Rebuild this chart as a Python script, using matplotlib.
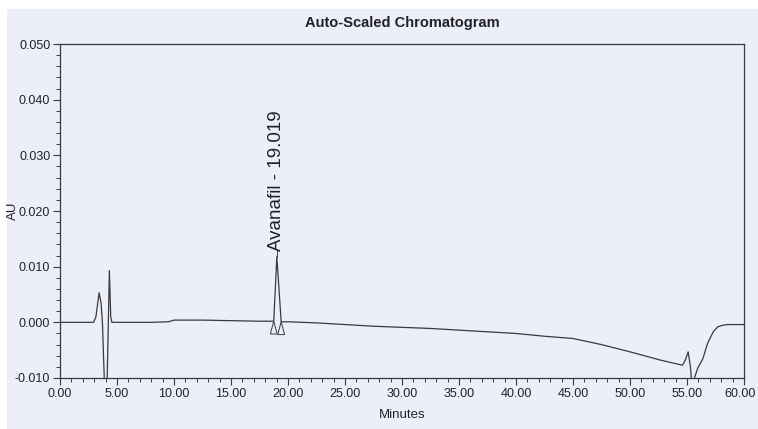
import matplotlib
matplotlib.use("Agg")
import matplotlib.pyplot as plt
from matplotlib.patches import Rectangle, Polygon
from matplotlib.ticker import MultipleLocator, FuncFormatter, FormatStrFormatter

# Detector trace (retention time in minutes, absorbance in AU)
time_min = [0.00, 2.95, 3.15, 3.43, 3.60, 3.72, 3.85, 3.98, 4.10, 4.22, 4.33,
            4.45, 4.55, 6.00, 8.00, 9.50, 10.00, 12.50, 15.00, 17.50, 18.75,
            19.02, 19.40, 20.00, 22.50, 25.00, 27.50, 30.00, 32.50, 35.00,
            37.50, 40.00, 42.50, 45.00, 47.50, 50.00, 52.70, 54.60, 54.85,
            55.10, 55.30, 55.50, 55.65, 55.95, 56.40, 56.80, 57.30, 57.70,
            58.20, 58.60, 59.30, 60.00]
signal_au = [0.0000, 0.0000, 0.0010, 0.0053, 0.0035, 0.0000, -0.0080, -0.0160,
             -0.0140, -0.0020, 0.0093, 0.0010, 0.0000, 0.0000, 0.0000, 0.0001,
             0.0004, 0.0004, 0.0003, 0.0002, 0.0002, 0.0118, 0.0001, 0.0001,
             -0.0001, -0.0004, -0.0007, -0.0009, -0.0011, -0.0014, -0.0017,
             -0.0020, -0.0025, -0.0029, -0.0040, -0.0053, -0.0068, -0.0077,
             -0.0068, -0.0053, -0.0080, -0.0130, -0.0100, -0.0082, -0.0065,
             -0.0038, -0.0017, -0.0008, -0.0005, -0.0004, -0.0004, -0.0004]

# Integrated peak
peak_name = "Avanafil"
peak_rt = 19.019
peak_height = 0.0118
peak_start = 18.75
peak_end = 19.40
label_base = 0.0128

x_limits = (0.0, 60.0)
y_limits = (-0.010, 0.050)

ink = "#3a3a3e"
text_ink = "#222226"
paper = "#eceef8"

plt.rcParams["font.family"] = ["Liberation Sans", "DejaVu Sans"]

fig = plt.figure(figsize=(7.58, 4.29), dpi=100)
fig.patch.set_facecolor("white")
fig.patches.append(Rectangle((7 / 758, 0), 1, 1 - 9 / 429, transform=fig.transFigure,
                             facecolor=paper, edgecolor="none", zorder=-10))

ax = fig.add_axes([60 / 758, 1 - 378 / 429, 684 / 758, (378 - 44) / 429])
ax.set_facecolor(paper)

ax.plot(time_min, signal_au, color=ink, lw=0.9, zorder=3)

# Baseline start/end markers of the integrated peak
tri_half = 0.30
tri_depth = 0.0023
for xm in (peak_start, peak_end):
    base_y = signal_au[time_min.index(xm)]
    tri = Polygon([(xm - tri_half, base_y - tri_depth), (xm, base_y),
                   (xm + tri_half, base_y - tri_depth)], closed=True,
                  facecolor="none", edgecolor=ink, lw=0.7, zorder=3)
    ax.add_patch(tri)

# Peak label
ax.plot([peak_rt, peak_rt], [peak_height, label_base], color=ink, lw=0.7, zorder=3)
ax.text(peak_rt, label_base, f"{peak_name} - {peak_rt:.3f}", rotation=90,
        ha="center", va="bottom", fontsize=13.5, color=text_ink)

ax.set_xlim(*x_limits)
ax.set_ylim(*y_limits)
ax.xaxis.set_major_locator(MultipleLocator(5))
ax.xaxis.set_minor_locator(MultipleLocator(1))
ax.yaxis.set_major_locator(MultipleLocator(0.010))
ax.yaxis.set_minor_locator(MultipleLocator(0.002))
# the right-hand end label is drawn separately so it stays on the canvas
ax.xaxis.set_major_formatter(FuncFormatter(
    lambda v, pos: "" if v >= x_limits[1] - 1e-9 else f"{v:.2f}"))
ax.yaxis.set_major_formatter(FormatStrFormatter("%.3f"))

ax.tick_params(which="major", direction="out", length=5, width=0.8, color=ink,
               labelsize=9, labelcolor=text_ink, pad=2)
ax.tick_params(which="minor", direction="out", length=3, width=0.7, color=ink)
for s in ax.spines.values():
    s.set_color(ink)
    s.set_linewidth(0.9)

ax.annotate(f"{x_limits[1]:.2f}", xy=(x_limits[1], y_limits[0]), xytext=(-3, -7),
            textcoords="offset points", ha="center", va="top", fontsize=9,
            color=text_ink, annotation_clip=False)

ax.set_xlabel("Minutes", fontsize=9.5, color=text_ink, labelpad=7)
ax.set_ylabel("AU", fontsize=9.5, color=text_ink)
ax.yaxis.set_label_coords(-0.060, 0.5)
ax.set_title("Auto-Scaled Chromatogram", fontsize=10.5, fontweight="bold",
             color=text_ink, pad=12)

fig.savefig("out.png", dpi=100, facecolor=fig.get_facecolor())
